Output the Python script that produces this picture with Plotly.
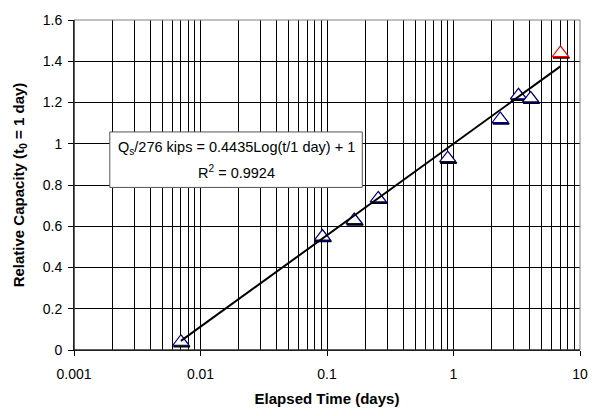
import plotly.graph_objects as go

# Data
time_days = [0.007, 0.092, 0.164, 0.254, 0.90, 2.34, 3.26, 4.07]
rel_capacity = [0.04, 0.55, 0.63, 0.735, 0.93, 1.12, 1.235, 1.22]
red_time = [7.0]
red_capacity = [1.44]
trend_x = [0.007, 7.0]
trend_y = [0.044, 1.375]
x_tickvals = [0.001, 0.01, 0.1, 1, 10]
x_ticktext = ["0.001", "0.01", "0.1", "1", "10"]
y_tickvals = [0, 0.2, 0.4, 0.6, 0.8, 1.0, 1.2, 1.4, 1.6]
y_ticktext = ["0", "0.2", "0.4", "0.6", "0.8", "1", "1.2", "1.4", "1.6"]

FONT = "Liberation Sans, Arial, sans-serif"
L, T, W, H = 74, 13, 509, 339


def px(xp):
    return (xp - L) / W


def py(yp):
    return (T + H - yp) / H


fig = go.Figure()

# marker shadows (derived from the data with a small offset)
sx = [x * 1.015 for x in time_days + red_time]
sy = [y - 0.007 for y in rel_capacity + red_capacity]
fig.add_trace(go.Scatter(x=sx, y=sy, mode="markers",
                         marker=dict(symbol="triangle-up", size=14, color="black",
                                     line=dict(width=1.5, color="black")),
                         hoverinfo="skip", showlegend=False))
fig.add_trace(go.Scatter(x=time_days, y=rel_capacity, mode="markers",
                         marker=dict(symbol="triangle-up", size=14, color="white",
                                     line=dict(width=1.2, color="#000080")),
                         showlegend=False))
fig.add_trace(go.Scatter(x=red_time, y=red_capacity, mode="markers",
                         marker=dict(symbol="triangle-up", size=14, color="white",
                                     line=dict(width=1.2, color="#FF0000")),
                         showlegend=False))
fig.add_trace(go.Scatter(x=trend_x, y=trend_y, mode="lines",
                         line=dict(color="black", width=2), showlegend=False))

fig.update_layout(
    width=600, height=416,
    margin=dict(l=L, r=600 - L - W, t=T, b=416 - T - H),
    paper_bgcolor="white", plot_bgcolor="white",
    font=dict(family=FONT, size=14, color="black"),
    showlegend=False,
)

fig.update_xaxes(
    type="log", range=[-3, 1],
    tickvals=x_tickvals, ticktext=x_ticktext,
    showgrid=True, gridcolor="black", gridwidth=1,
    minor=dict(dtick="D1", showgrid=True, gridcolor="black", gridwidth=1, ticks=""),
    ticks="outside", ticklen=5, tickcolor="black",
    ticklabelstandoff=6,
    showline=True, linecolor="black", linewidth=1,
    zeroline=False,
    tickfont=dict(size=14, family=FONT),
    title=dict(text="<b>Elapsed Time (days)</b>", font=dict(size=15, family=FONT), standoff=12),
)
fig.update_yaxes(
    range=[0, 1.6],
    tickvals=y_tickvals, ticktext=y_ticktext,
    showgrid=True, gridcolor="black", gridwidth=1,
    ticks="outside", ticklen=5, tickcolor="black",
    ticklabelstandoff=3,
    showline=True, linecolor="black", linewidth=1,
    zeroline=False,
    tickfont=dict(size=14, family=FONT),
    title=dict(text="<b>Relative Capacity (t<sub>0</sub> = 1 day)</b>",
               font=dict(size=15, family=FONT), standoff=14),
)

# gray border on top/right, black on left/bottom
fig.add_shape(type="rect", xref="paper", yref="paper", x0=0, y0=0, x1=1, y1=1,
              line=dict(color="#808080", width=1), layer="above")
fig.add_shape(type="line", xref="paper", yref="paper", x0=0, y0=0, x1=0, y1=1,
              line=dict(color="black", width=1), layer="above")
fig.add_shape(type="line", xref="paper", yref="paper", x0=0, y0=0, x1=1, y1=0,
              line=dict(color="black", width=1), layer="above")

# equation box
fig.add_shape(type="rect", xref="paper", yref="paper",
              x0=px(110), x1=px(364), y0=py(185), y1=py(128),
              fillcolor="white", line=dict(color="#555555", width=1), layer="above")
fig.add_annotation(
    xref="paper", yref="paper", x=px(237), y=py(145), xanchor="center", yanchor="middle",
    showarrow=False, text="Q<sub>s</sub>/276 kips = 0.4435Log(t/1 day) + 1",
    font=dict(size=14.5, family=FONT, color="black"),
)
fig.add_annotation(
    xref="paper", yref="paper", x=px(237), y=py(169), xanchor="center", yanchor="middle",
    showarrow=False, text="R<sup>2</sup> = 0.9924",
    font=dict(size=14.5, family=FONT, color="black"),
)

fig.write_html("out.html")
